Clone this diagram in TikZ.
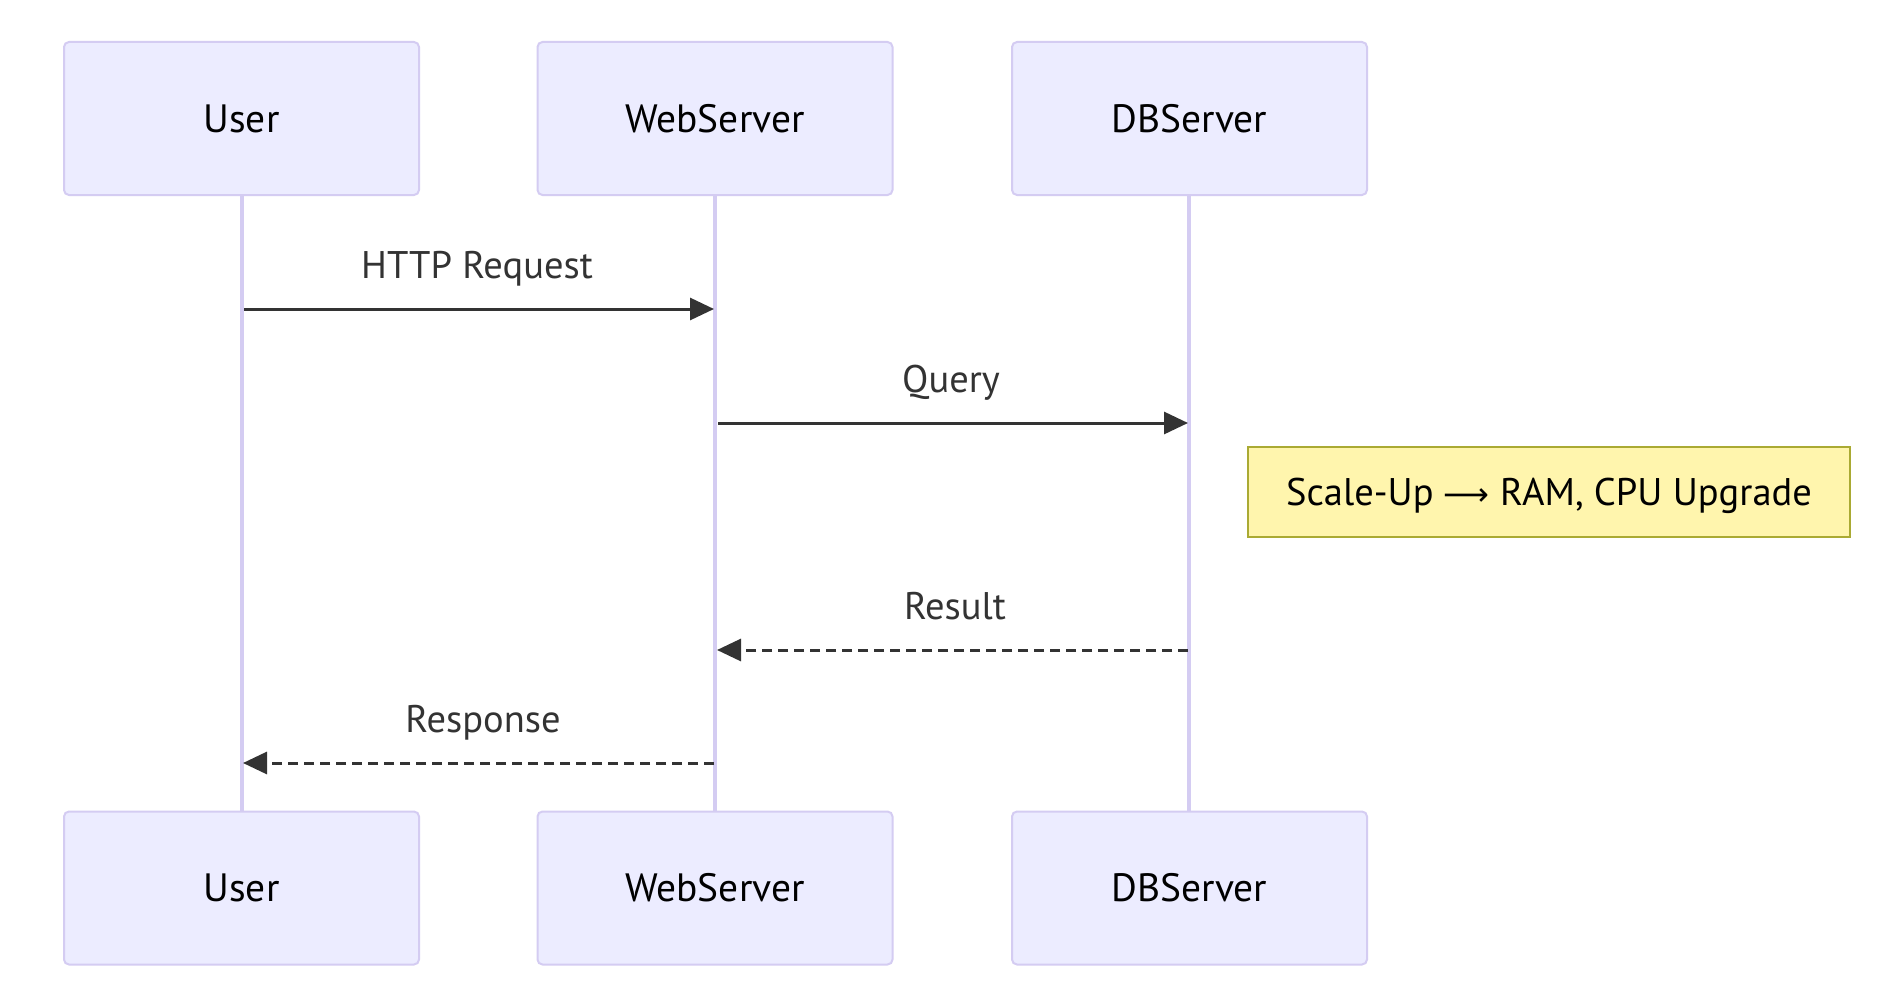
\documentclass[tikz,border=0pt]{standalone}
\usepackage{fontspec}
\setmainfont{PT Sans}
\newfontfamily\symfont{DejaVu Sans}
\usetikzlibrary{arrows.meta}
\definecolor{actfill}{HTML}{ECECFF}
\definecolor{actdraw}{HTML}{D4CCF2}
\definecolor{msg}{HTML}{333333}
\definecolor{notefill}{HTML}{FFF5AD}
\definecolor{notedraw}{HTML}{AAAA33}
\tikzset{
  actor/.style={draw=actdraw, line width=2pt, fill=actfill, rounded corners=5pt,
    minimum width=355pt, minimum height=153pt, inner sep=0pt,
    font=\fontsize{39.5}{44}\selectfont, text=black},
  life/.style={draw=actdraw, line width=3.5pt},
  msgline/.style={draw=msg, line width=3pt, -{Triangle[length=24pt,width=22pt]}},
  reply/.style={msgline, dash pattern=on 10pt off 6pt},
  msglabel/.style={anchor=base, font=\fontsize{38.5}{44}\selectfont, text=msg, inner sep=0pt},
  notebox/.style={draw=notedraw, line width=2pt, fill=notefill,
    minimum width=602pt, minimum height=90pt, inner sep=0pt,
    text height=27pt, text depth=0pt,
    font=\fontsize{38.5}{44}\selectfont, text=black}
}
\begin{document}
\begin{tikzpicture}[x=1pt,y=-1pt]
\useasboundingbox[fill=white] (0,0) rectangle (1900,990);
% lifelines
\coordinate (u1) at (242,195); \coordinate (u2) at (242,811);
\coordinate (w1) at (715,195); \coordinate (w2) at (715,811);
\coordinate (d1) at (1189,195); \coordinate (d2) at (1189,811);
\draw[life] (u1) -- (u2);
\draw[life] (w1) -- (w2);
\draw[life] (d1) -- (d2);
% actors
\node[actor] (userT) at (241.5,118.5) {User};
\node[actor] (webT) at (715,118.5) {WebServer};
\node[actor] (dbT) at (1189.5,118.5) {DBServer};
\node[actor] (userB) at (241.5,888) {User};
\node[actor] (webB) at (715,888) {WebServer};
\node[actor] (dbB) at (1189.5,888) {DBServer};
% message endpoints
\coordinate (m1s) at (244,309); \coordinate (m1e) at (714,309);
\coordinate (m2s) at (718,423); \coordinate (m2e) at (1188,423);
\coordinate (m3s) at (1188,650); \coordinate (m3e) at (717,650);
\coordinate (m4s) at (714,763); \coordinate (m4e) at (243,763);
\draw[msgline] (m1s) -- (m1e);
\node[msglabel] (l1) at (477,278) {HTTP Request};
\draw[msgline] (m2s) -- (m2e);
\node[msglabel] (l2) at (951,392) {Query};
\draw[reply] (m3s) -- (m3e);
\node[msglabel] (l3) at (955,619) {Result};
\draw[reply] (m4s) -- (m4e);
\node[msglabel] (l4) at (483,732) {Response};
% note
\node[notebox] (note) at (1549,492) {Scale-Up {\symfont\fontsize{32}{36}\selectfont ⟶} RAM, CPU Upgrade};
\end{tikzpicture}
\end{document}
